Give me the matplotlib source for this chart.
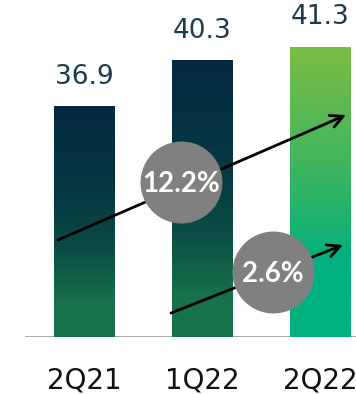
import numpy as np
import matplotlib.pyplot as plt
from matplotlib.colors import LinearSegmentedColormap

quarters = ['2Q21', '1Q22', '2Q22']
revenue = [36.9, 40.3, 41.3]
growth_labels = ['12.2%', '2.6%']

y_base = 19.9
bar_width = 0.51

# vertical colour ramps (top -> bottom)
dark_ramp = LinearSegmentedColormap.from_list(
    'dark', [(0.0, '#062a40'), (0.35, '#053640'), (0.62, '#0a4d44'),
             (0.86, '#17724a'), (1.0, '#17724a')])
green_ramp = LinearSegmentedColormap.from_list(
    'green', [(0.0, '#7abd44'), (0.4, '#40b65e'), (0.75, '#00b07e'),
              (1.0, '#00b07e')])
ramps = [dark_ramp, dark_ramp, green_ramp]

fig = plt.figure(figsize=(3.56, 3.94), dpi=100)
ax = fig.add_axes([25 / 356, 57 / 394, 1 - 25 / 356, 1 - 57 / 394])
ax.set_xlim(-0.5, 2.305)
ax.set_ylim(y_base, 44.8)

grad = np.linspace(0, 1, 256).reshape(-1, 1)
for i, (q, v) in enumerate(zip(quarters, revenue)):
    ax.imshow(grad, cmap=ramps[i], aspect='auto', zorder=2,
              extent=[i - bar_width / 2, i + bar_width / 2, y_base, v])
    ax.annotate(f'{v:.1f}', (i, v), xytext=(0, 12.5), textcoords='offset points',
                ha='center', va='bottom', fontsize=19, color='#1c3a4c')

# growth arrows
arrow_kw = dict(arrowstyle='->,head_length=0.9,head_width=0.45', color='black',
                lw=2, shrinkA=0, shrinkB=0)
ax.annotate('', xy=(2.22, 36.3), xytext=(-0.22, 27.07), arrowprops=arrow_kw, zorder=3)
ax.annotate('', xy=(2.195, 26.7), xytext=(0.737, 21.67), arrowprops=arrow_kw, zorder=3)

# growth badges
badge_x = [0.822, 1.60]
badge_y = [31.36, 24.7]
ax.scatter(badge_x, badge_y, s=59 ** 2, color='#808080', zorder=4, linewidths=0)
for bx, by, txt in zip(badge_x, badge_y, growth_labels):
    ax.text(bx, by - 0.15, txt, ha='center', va='center', fontsize=20, fontweight='bold',
            family='Lato', color='white', zorder=5)

ax.axhline(y_base, color='#a0a0a0', lw=2, zorder=1)
ax.set_xticks(range(len(quarters)))
ax.set_xticklabels(quarters, fontsize=20, color='#111111')
ax.tick_params(axis='x', length=0, pad=21)
ax.set_yticks([])
for s in ax.spines.values():
    s.set_visible(False)

fig.savefig('out.png', dpi=100)
